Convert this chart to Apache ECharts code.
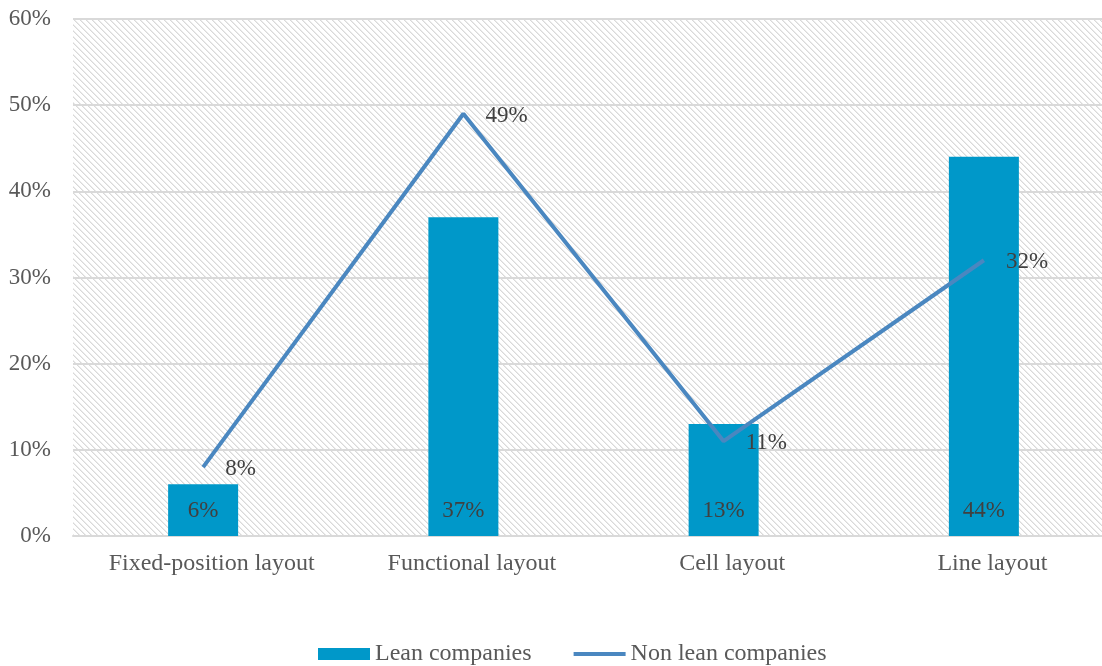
<!DOCTYPE html>
<html>
<head>
<meta charset="utf-8">
<script src="https://cdn.jsdelivr.net/npm/echarts@6/dist/echarts.min.js"></script>
<style>
  html, body { margin: 0; padding: 0; background: #ffffff; overflow: hidden; }
  /* the plot area runs slightly past the right edge of the window */
  #chart { width: 1114px; height: 666px; }
</style>
</head>
<body>
<div id="chart"></div>
<script>
// Plant layout types surveyed
const categories = ['Fixed-position layout', 'Functional layout', 'Cell layout', 'Line layout'];
// Share of companies using each layout (%)
const leanCompanies = [6, 37, 13, 44];
const nonLeanCompanies = [8, 49, 11, 32];
// Value axis ticks (%)
const yTicks = [0, 10, 20, 30, 40, 50, 60];

// Light downward-diagonal hatch used behind the plot area
function makeHatch() {
  const size = 6;
  const c = document.createElement('canvas');
  c.width = size; c.height = size;
  const ctx = c.getContext('2d');
  ctx.fillStyle = '#ffffff';
  ctx.fillRect(0, 0, size, size);
  for (let i = 0; i < size; i++) {
    ctx.fillStyle = '#d9d9d9';
    ctx.fillRect(i, i, 1, 1);
    ctx.fillStyle = '#ebebeb';
    ctx.fillRect((i + 1) % size, i, 1, 1);
  }
  return c;
}

const textFont = '"Liberation Serif", "Times New Roman", serif';
const chart = echarts.init(document.getElementById('chart'), null, { renderer: 'canvas' });

chart.setOption({
  backgroundColor: '#ffffff',
  animation: false,
  textStyle: { fontFamily: textFont },
  grid: {
    left: 73,
    top: 19,
    right: 0,
    bottom: 130,
    show: true,
    borderWidth: 0,
    backgroundColor: { image: makeHatch(), repeat: 'repeat' }
  },
  legend: {
    top: 637,
    left: 313,
    itemWidth: 52,
    itemHeight: 12,
    itemGap: 40,
    textStyle: { fontFamily: textFont, fontSize: 24, color: '#595959' },
    data: [
      { name: 'Lean companies', icon: 'rect' },
      { name: 'Non lean companies', itemStyle: { opacity: 0 }, lineStyle: { width: 4, color: '#4a87c0' } }
    ]
  },
  xAxis: {
    type: 'category',
    data: categories,
    axisLine: { show: true, lineStyle: { color: '#d9d9d9', width: 2 } },
    axisTick: { show: false },
    axisLabel: { interval: 0, fontFamily: textFont, fontSize: 24, color: '#595959', margin: 16, padding: [0, 0, 0, 17] }
  },
  yAxis: {
    type: 'value',
    min: yTicks[0],
    max: yTicks[yTicks.length - 1],
    interval: 10,
    axisLine: { show: false },
    axisTick: { show: false },
    axisLabel: { fontFamily: textFont, fontSize: 23, color: '#595959', margin: 22, formatter: '{value}%' },
    splitLine: { lineStyle: { color: '#d9d9d9', width: 2 } }
  },
  series: [
    {
      name: 'Lean companies',
      type: 'bar',
      data: leanCompanies,
      barWidth: 70,
      itemStyle: { color: '#0098c9' },
      label: {
        show: true,
        position: 'insideBottom',
        distance: 14,
        formatter: '{c}%',
        fontFamily: textFont,
        fontSize: 23,
        color: '#404040'
      }
    },
    {
      name: 'Non lean companies',
      type: 'line',
      data: nonLeanCompanies,
      symbol: 'circle',
      symbolSize: 0,
      showSymbol: true,
      lineStyle: { color: '#4a87c0', width: 4 },
      itemStyle: { color: '#4a87c0' },
      label: {
        show: true,
        position: 'right',
        distance: 22,
        offset: [0, 2],
        formatter: '{c}%',
        fontFamily: textFont,
        fontSize: 23,
        color: '#404040'
      }
    }
  ]
});
</script>
</body>
</html>
